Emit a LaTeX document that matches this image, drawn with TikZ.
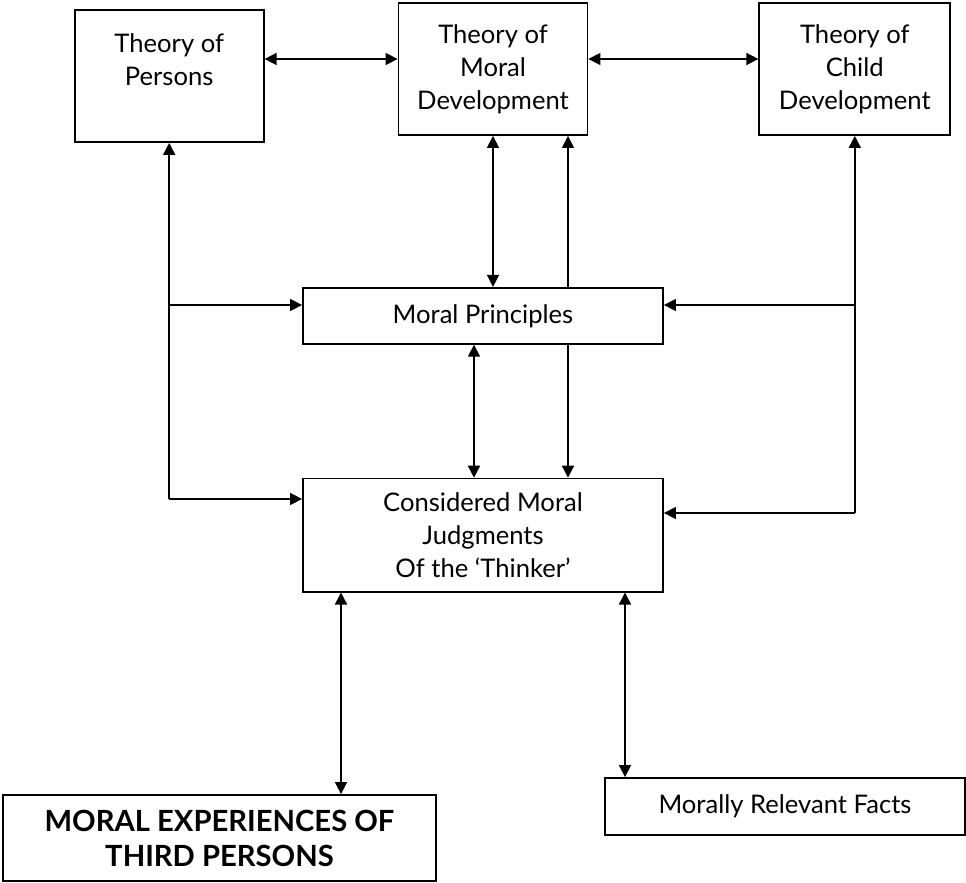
\documentclass[tikz,border=0pt]{standalone}
\usepackage{fontspec}
\setmainfont{Lato}
\usetikzlibrary{positioning, arrows.meta, calc}

\begin{document}
\begin{tikzpicture}[
    x=0.5pt, y=-0.5pt,
    node distance=0.3cm,
    box/.style={rectangle, draw, line width=0.9pt, align=center, inner sep=0pt, font=\fontsize{12.8}{16.5}\selectfont},
    theory/.style={box, minimum width=94.5pt, minimum height=66pt},
    wide/.style={box, minimum width=180pt},
    arrow/.style={-{Triangle[length=6pt, width=6pt]}, line width=0.75pt},
    dbl_arrow/.style={{Triangle[length=6pt, width=6pt]}-{Triangle[length=6pt, width=6pt]}, line width=0.75pt},
]
\useasboundingbox (0,0) rectangle (966,883);

%% THEORIES
    \node[theory] (md) at (493,69) {Theory of\\Moral\\Development};
    \node[theory, left=66.5pt of md, yshift=-3.5pt] (persons) {Theory of\\Persons\\\mbox{}};
    \node[theory, right=85pt of md, minimum width=95.5pt] (child) {Theory of\\Child\\Development};

%% PRINCIPLES AND JUDGMENTS
    \node[wide, minimum height=28pt, below=75.5pt of md, xshift=-5pt] (mp) {Moral Principles};
    \node[wide, minimum height=56.5pt, below=66.5pt of mp] (cmj) {Considered Moral\\Judgments\\Of the `Thinker'};

%% BOTTOM
    \node[box, minimum width=216.5pt, minimum height=43pt, font=\bfseries\fontsize{14.6}{17.5}\selectfont] (mex) at (219.5,838) {MORAL EXPERIENCES OF\\THIRD PERSONS};
    \node[wide, minimum height=28.5pt] (mrf) at (785,806.5) {Morally Relevant Facts};

    % rows and columns of the connectors
    \coordinate (toprow) at (0,59);
    \coordinate (midrow) at (0,305);
    \coordinate (lowleft) at (0,499);
    \coordinate (lowright) at (0,513);
    \coordinate (colA) at (474,0);
    \coordinate (colC) at (568,0);
    \coordinate (colD) at (341,0);
    \coordinate (colE) at (625,0);

    \draw[dbl_arrow] (persons.east |- toprow) -- (md.west |- toprow);
    \draw[dbl_arrow] (md.east |- toprow) -- (child.west |- toprow);

    % left riser
    \draw[arrow] (persons.south |- lowleft) -- (persons.south);
    \draw[arrow] (persons.south |- lowleft) -- (cmj.west |- lowleft);
    \draw[arrow] (persons.south |- midrow) -- (mp.west |- midrow);

    % right riser
    \draw[arrow] (child.south |- lowright) -- (child.south);
    \draw[arrow] (child.south |- lowright) -- (cmj.east |- lowright);
    \draw[arrow] (child.south |- midrow) -- (mp.east |- midrow);

    % middle
    \draw[dbl_arrow] (md.south) -- (mp.north -| md.south);
    \draw[arrow] (mp.north -| colC) -- (md.south -| colC);
    \draw[arrow] (mp.south -| colC) -- (cmj.north -| colC);
    \draw[dbl_arrow] (mp.south -| colA) -- (cmj.north -| colA);

    \draw[dbl_arrow] (cmj.south -| colD) -- (mex.north -| colD);
    \draw[dbl_arrow] (cmj.south -| colE) -- (mrf.north -| colE);

\end{tikzpicture}
\end{document}
